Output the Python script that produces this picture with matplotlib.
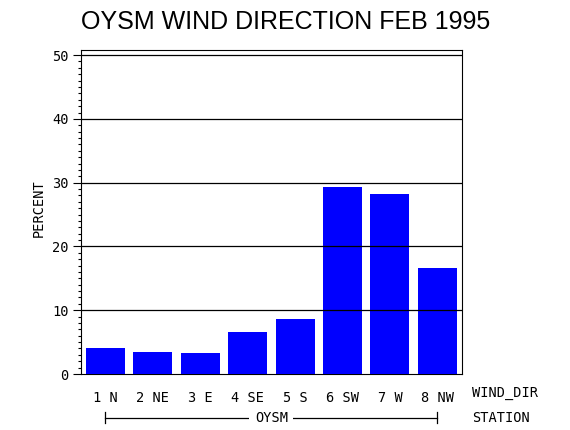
import matplotlib
matplotlib.use("Agg")
import matplotlib.pyplot as plt
import matplotlib.transforms as mtransforms
from matplotlib.ticker import MultipleLocator

# Data
wind_dir = ["1 N", "2 NE", "3 E", "4 SE", "5 S", "6 SW", "7 W", "8 NW"]
percent = [4.1, 3.45, 3.35, 6.6, 8.6, 29.3, 28.2, 16.6]
station = "OYSM"
yticks = [0, 10, 20, 30, 40, 50]

W, H = 570, 430
fig = plt.figure(figsize=(W / 100, H / 100), dpi=100)

# axes frame in pixels: left 81, right 461.5, top 50, bottom 374
l, r, t, b = 81, 461.5, 50, 374
ax = fig.add_axes([l / W, 1 - b / H, (r - l) / W, (b - t) / H])

mono = "DejaVu Sans Mono"
fs = 9.8
x = list(range(len(wind_dir)))
ax.bar(x, percent, width=0.823, color="#0000FF", edgecolor="none", zorder=3)

ax.set_xlim(-0.515, 7.51)
ax.set_ylim(0, 50.8)
ax.set_yticks(yticks)
ax.set_yticklabels([str(v) for v in yticks], family=mono, fontsize=fs)
ax.yaxis.set_minor_locator(MultipleLocator(1))
ax.tick_params(axis="y", which="major", length=6, width=0.8, pad=3, direction="out")
ax.tick_params(axis="y", which="minor", length=2.5, width=0.8, direction="out")

ax.set_xticks(x)
ax.set_xticklabels(wind_dir, family=mono, fontsize=fs)
ax.tick_params(axis="x", which="both", length=0, pad=12)

for s in ax.spines.values():
    s.set_linewidth(0.8)
    s.set_color("black")

for v in yticks[1:]:
    ax.axhline(v, color="black", linewidth=0.9, zorder=4)

# Axis labels
fig.text(39 / W, 1 - 208 / H, "PERCENT", rotation=90, family=mono, fontsize=fs,
         ha="center", va="center")
fig.text(472 / W, 1 - 393 / H, "WIND_DIR", family=mono, fontsize=fs,
         ha="left", va="center")
fig.text(472 / W, 1 - 418 / H, "STATION", family=mono, fontsize=fs,
         ha="left", va="center")

# Station bracket
trans = mtransforms.blended_transform_factory(ax.transData, ax.transAxes)
yb = (b - 418) / (b - t)
yc1 = (b - 412) / (b - t)
yc2 = (b - 423) / (b - t)
ax.plot([x[0], x[-1]], [yb, yb], color="black", lw=0.9, transform=trans, clip_on=False)
ax.plot([x[0], x[0]], [yc1, yc2], color="black", lw=0.9, transform=trans, clip_on=False)
ax.plot([x[-1], x[-1]], [yc1, yc2], color="black", lw=0.9, transform=trans, clip_on=False)
ax.text((x[0] + x[-1]) / 2, yb, station, transform=trans, family=mono, fontsize=fs,
        ha="center", va="center", clip_on=False,
        bbox=dict(facecolor="white", edgecolor="none", pad=4))

# Title
fig.text(286 / W, 1 - 22 / H, "OYSM WIND DIRECTION FEB 1995", family="Liberation Sans",
         fontsize=18, ha="center", va="center")

fig.savefig("out.png", dpi=100)
